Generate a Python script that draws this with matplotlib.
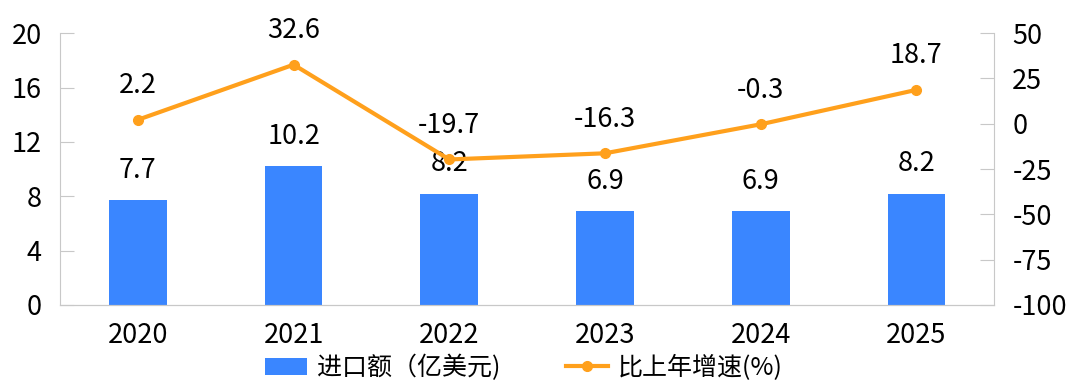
import matplotlib
matplotlib.use("Agg")
import matplotlib.pyplot as plt
import numpy as np

plt.rcParams['font.family'] = ['Noto Sans CJK SC', 'DejaVu Sans']
plt.rcParams['axes.unicode_minus'] = False

# 数据
years = ["2020", "2021", "2022", "2023", "2024", "2025"]
imports = [7.7, 10.2, 8.2, 6.9, 6.9, 8.2]        # 进口额（亿美元）
growth = [2.2, 32.6, -19.7, -16.3, -0.3, 18.7]    # 比上年增速(%)

bar_color = "#3A86FF"
line_color = "#FFA01C"
spine_color = "#C8C8C8"
fs = 19.5

fig = plt.figure(figsize=(10.8, 3.9), dpi=100)
ax = fig.add_axes([0.0556, 0.218, 0.865, 0.697])
ax2 = ax.twinx()

x = np.arange(len(years))
bars = ax.bar(x, imports, width=0.37, color=bar_color, label="进口额（亿美元)", zorder=2)
ln, = ax2.plot(x, growth, color=line_color, lw=3, marker="o", ms=7, label="比上年增速(%)", zorder=3)

ax.set_xlim(-0.5, 5.5)
ax.set_ylim(0, 20)
ax.set_yticks(range(0, 21, 4))
ax2.set_ylim(-100, 50)
ax2.set_yticks(range(-100, 51, 25))

ax.set_xticks(x)
ax.set_xticklabels(years)

for a in (ax, ax2):
    a.spines['top'].set_visible(False)
    a.spines['bottom'].set_color(spine_color)
    a.spines['left'].set_color(spine_color)
    a.spines['right'].set_color(spine_color)
    a.tick_params(axis='y', direction='in', length=10, color=spine_color, labelsize=fs, pad=13)
    a.tick_params(axis='x', length=0, labelsize=fs, pad=12)
ax.spines['right'].set_visible(False)
ax2.spines['left'].set_visible(False)

# 数据标签
for xi, v in zip(x, imports):
    ax.annotate(f"{v}", (xi, v), xytext=(0, 30), textcoords="offset pixels",
                ha="center", va="center", fontsize=fs)
for xi, v in zip(x, growth):
    ax2.annotate(f"{v}", (xi, v), xytext=(0, 34), textcoords="offset pixels",
                 ha="center", va="center", fontsize=fs)

fig.legend(handles=[bars, ln], loc="lower center", bbox_to_anchor=(0.485, -0.035),
           ncol=2, frameon=False, fontsize=18, columnspacing=2.6,
           handlelength=1.7, handletextpad=0.4)

fig.savefig("out.png", dpi=100)
